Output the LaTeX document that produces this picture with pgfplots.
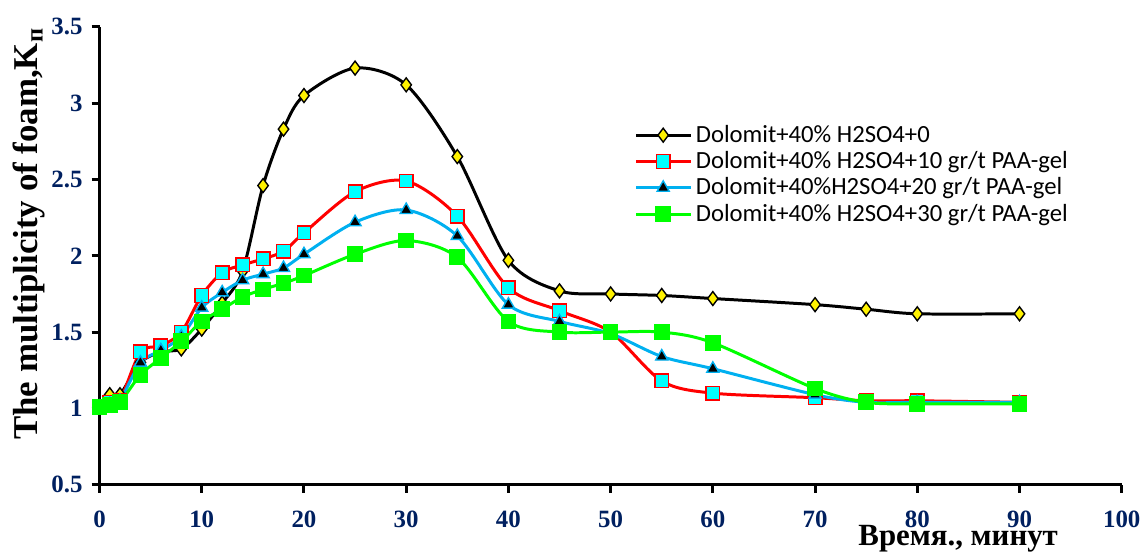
\documentclass[border=0pt]{standalone}
\usepackage{fontspec}
\setmainfont{Liberation Serif}
\newfontfamily\legfont{Carlito}
\usepackage{pgfplots}
\pgfplotsset{compat=1.18}

\definecolor{tickblue}{RGB}{0,32,96}
\definecolor{lblue}{RGB}{0,176,240}
\definecolor{lgreen}{RGB}{0,255,0}
\definecolor{lcyan}{RGB}{0,255,255}

\begin{document}
\begin{tikzpicture}
\begin{axis}[
    width=513.5pt, height=230pt,
    scale only axis,
    xmin=0, xmax=100,
    ymin=0.5, ymax=3.5,
    xtick={0,10,...,100},
    ytick={0.5,1,1.5,2,2.5,3,3.5},
    axis lines=left,
    axis line style={-, line width=1.5pt},
    tick style={line width=1.5pt, black},
    tick align=outside,
    major tick length=4pt,
    clip=false,
    /pgf/number format/assume math mode=true,
    ticklabel style={font=\fontsize{12.5}{14}\selectfont\bfseries, text=tickblue},
    xticklabel style={yshift=-5.5pt},
    yticklabel style={xshift=-1pt},
    xlabel={Время., минут},
    xlabel style={font=\fontsize{15.5}{17}\selectfont\bfseries,
        at={(axis description cs:0.84,0)}, anchor=base, yshift=-30.5pt},
    ylabel={The multiplicity of foam,K\textsubscript{п}},
    ylabel style={font=\fontsize{17.5}{19}\selectfont\bfseries,
        at={(axis description cs:-0.069,0.548)}, anchor=center},
    legend style={draw=none, fill=none, font=\legfont\fontsize{12.4}{13}\selectfont,
        at={(axis description cs:0.523,0.795)}, anchor=north west,
        row sep=-0.9pt, inner sep=0pt},
    legend cell align=left,
    legend image code/.code={
        \draw[mark repeat=2, mark phase=2, #1]
        plot coordinates {(0cm,0cm) (0.48cm,0cm) (0.96cm,0cm)};},
    every axis plot/.append style={line width=1.5pt, smooth, tension=0.5},
]
\addplot[black, mark=diamond*, mark size=3.5pt,
    mark options={solid, fill=yellow, draw=black, line width=0.7pt}] coordinates {
(0,1.01) (1,1.09) (2,1.09) (4,1.30) (6,1.37) (8,1.39) (10,1.52) (12,1.69)
(14,1.90) (16,2.46) (18,2.83) (20,3.05) (25,3.23) (30,3.12) (35,2.65)
(40,1.97) (45,1.77) (50,1.75) (55,1.74) (60,1.72) (70,1.68) (75,1.65)
(80,1.62) (90,1.62)
};
\addlegendentry{Dolomit+40\% H2SO4+0}
\addplot[red, mark=square*, mark size=3.4pt,
    mark options={solid, fill=lcyan, draw=red, line width=0.7pt}] coordinates {
(0,1.01) (1,1.04) (2,1.05) (4,1.37) (6,1.41) (8,1.50) (10,1.74) (12,1.89)
(14,1.94) (16,1.98) (18,2.03) (20,2.15) (25,2.42) (30,2.49) (35,2.26)
(40,1.79) (45,1.64) (50,1.50) (55,1.18) (60,1.10) (70,1.07) (75,1.05)
(80,1.05) (90,1.04)
};
\addlegendentry{Dolomit+40\% H2SO4+10 gr/t PAA-gel}
\addplot[lblue, mark=triangle*, mark size=3.5pt,
    mark options={solid, fill=black, draw=lblue, line width=0.7pt}] coordinates {
(0,1.01) (1,1.03) (2,1.05) (4,1.30) (6,1.38) (8,1.47) (10,1.66) (12,1.76)
(14,1.84) (16,1.88) (18,1.92) (20,2.01) (25,2.22) (30,2.30) (35,2.13)
(40,1.68) (45,1.57) (50,1.49) (55,1.34) (60,1.26) (70,1.09) (75,1.04)
(80,1.04) (90,1.04)
};
\addlegendentry{Dolomit+40\%H2SO4+20 gr/t PAA-gel}
\addplot[lgreen, mark=square*, mark size=3.2pt,
    mark options={solid, fill=lgreen, draw=lgreen}] coordinates {
(0,1.01) (1,1.02) (2,1.04) (4,1.22) (6,1.33) (8,1.44) (10,1.57) (12,1.65)
(14,1.73) (16,1.78) (18,1.82) (20,1.87) (25,2.01) (30,2.10) (35,1.99)
(40,1.57) (45,1.50) (50,1.50) (55,1.50) (60,1.43) (70,1.13) (75,1.04)
(80,1.03) (90,1.03)
};
\addlegendentry{Dolomit+40\% H2SO4+30 gr/t PAA-gel}
\end{axis}
\path (current axis.north west) ++(-50pt,13.5pt);
\path (current axis.south east) ++(10pt,-32pt);
\end{tikzpicture}
\end{document}
